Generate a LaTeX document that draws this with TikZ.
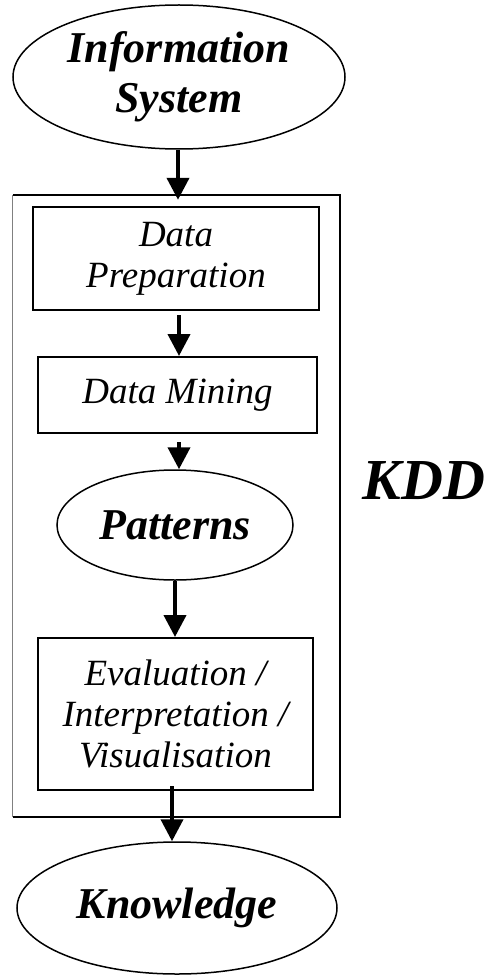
\documentclass[tikz,border=0pt]{standalone}
\usepackage{fontspec}
\setmainfont{Liberation Serif}
\usetikzlibrary{shapes.geometric,arrows.meta}
\begin{document}
\begin{tikzpicture}[x=1pt,y=-1pt,
  oval/.style={draw, ellipse, line width=1.5pt, inner sep=0pt, align=center,
    font=\fontsize{44}{50}\selectfont\bfseries\itshape},
  stepbox/.style={draw, rectangle, line width=2pt, inner sep=0pt, align=center,
    font=\fontsize{37}{41}\selectfont\itshape},
  arr/.style={line width=4pt, -{Triangle[width=22pt,length=22pt]}}]
\useasboundingbox (0,0) rectangle (488,976);
\node[oval, minimum width=332pt, minimum height=144pt] (info) at (179,77) {Information\\System};
\node[draw=none, minimum width=327pt, minimum height=622pt, inner sep=0pt] (outer) at (176.5,506) {};
\draw[line width=2.5pt] (outer.north west) -- (outer.north east) -- (outer.south east) -- (outer.south west);
\draw[line width=1pt, gray] (outer.north west) -- (outer.south west);
\node[stepbox, minimum width=286pt, minimum height=103pt] (prep) at (176,258.5) {Data\\Preparation};
\node[stepbox, minimum width=279pt, minimum height=76pt] (mine) at (177.5,395) {Data Mining};
\node[oval, minimum width=236pt, minimum height=110pt] (pat) at (175,525) {Patterns};
\node[stepbox, minimum width=275pt, minimum height=152pt] (eval) at (175.5,714) {Evaluation /\\Interpretation /\\Visualisation};
\node[oval, minimum width=320pt, minimum height=132pt] (know) at (177,908) {Knowledge};
\node[font=\fontsize{58}{62}\selectfont\bfseries\itshape, inner sep=0pt] (kdd) at (424,481) {KDD};
\draw[arr] (info.south -| 178,0) -- ([yshift=-5pt]outer.north -| 178,0);
\draw[arr] ([yshift=-4pt]prep.south -| 179,0) -- (mine.north -| 179,0);
\draw[arr] ([yshift=-8pt]mine.south -| 179,0) -- (pat.north -| 179,0);
\draw[arr] (pat.south -| 175,0) -- (eval.north -| 175,0);
\draw[arr] ([yshift=5pt]eval.south -| 172,0) -- (know.north -| 172,0);
\end{tikzpicture}
\end{document}
